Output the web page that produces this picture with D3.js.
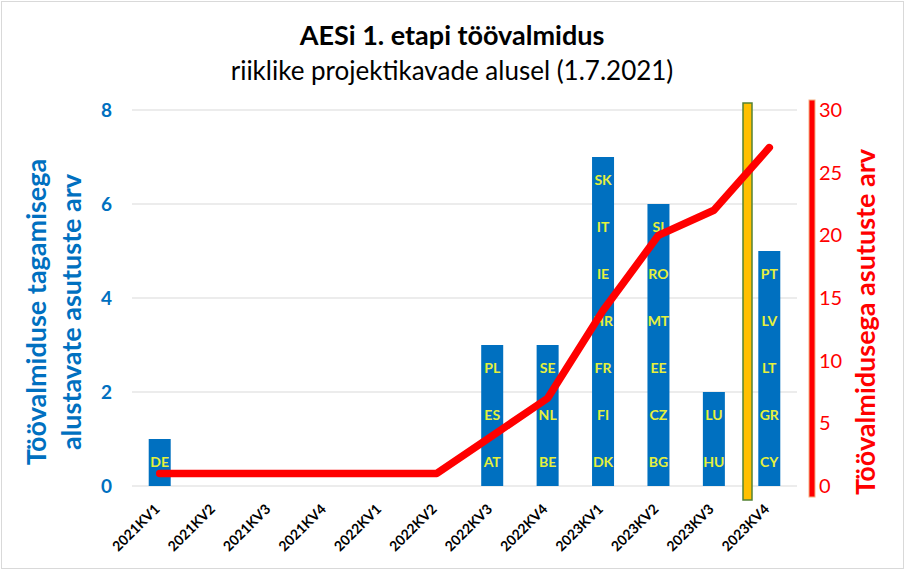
<!DOCTYPE html>
<html>
<head>
<meta charset="utf-8">
<script src="https://cdn.jsdelivr.net/npm/d3@7"></script>
<style>
  body { margin: 0; background: #fff; }
  svg { font-family: Lato, "Noto Sans", sans-serif; }
</style>
</head>
<body>
<script>
// data
var quarters = ["2021KV1","2021KV2","2021KV3","2021KV4","2022KV1","2022KV2",
                "2022KV3","2022KV4","2023KV1","2023KV2","2023KV3","2023KV4"];
// countries starting per quarter, bottom to top
var countries = [["DE"],[],[],[],[],[],
                 ["AT","ES","PL"],["BE","NL","SE"],
                 ["DK","FI","FR","HR","IE","IT","SK"],
                 ["BG","CZ","EE","MT","RO","SI"],
                 ["HU","LU"],["CY","GR","LT","LV","PT"]];
var starting = countries.map(function(d) { return d.length; });
var cumulative = [1,1,1,1,1,1,4,7,14,20,22,27];
var leftTicks = [0,2,4,6,8];
var rightTicks = [0,5,10,15,20,25,30];

var width = 905, height = 573;
var blue = "#0070C0", red = "#FF0000";

var svg = d3.select("body").append("svg")
  .attr("width", width)
  .attr("height", height);

// chart border
svg.append("rect")
  .attr("x", 1.5).attr("y", 1.5)
  .attr("width", width - 3).attr("height", height - 6)
  .attr("fill", "#fff").attr("stroke", "#d9d9d9");

var x = d3.scaleBand().domain(quarters).range([132, 797]);
var yL = d3.scaleLinear().domain([0, 8]).range([486, 110]);
var yR = d3.scaleLinear().domain([0, 30]).range([486, 110]);

// gridlines
svg.append("g")
  .selectAll("line")
  .data(leftTicks)
  .enter().append("line")
    .attr("x1", 132).attr("x2", 797)
    .attr("y1", function(d) { return yL(d); })
    .attr("y2", function(d) { return yL(d); })
    .attr("stroke", "#d9d9d9").attr("stroke-width", 1);

// left axis
var leftAxis = svg.append("g")
  .attr("transform", "translate(132,0)")
  .call(d3.axisLeft(yL).tickValues(leftTicks).tickSize(0).tickPadding(20));
leftAxis.select(".domain").remove();
leftAxis.selectAll("text")
  .attr("fill", blue).attr("font-size", 19).attr("font-weight", "bold")
  .attr("font-family", "Lato, sans-serif");

// right axis line
svg.append("rect")
  .attr("x", 809).attr("y", 100)
  .attr("width", 6).attr("height", 397)
  .attr("fill", red).attr("stroke", "#F4B183").attr("stroke-width", 1);

var rightAxis = svg.append("g")
  .attr("transform", "translate(815,0)")
  .call(d3.axisRight(yR).tickValues(rightTicks).tickSize(0).tickPadding(4));
rightAxis.select(".domain").remove();
rightAxis.selectAll("text")
  .attr("fill", red).attr("font-size", 20)
  .attr("font-family", "Lato, sans-serif");

// bars
var bw = 22;
svg.append("g")
  .selectAll("rect")
  .data(quarters)
  .enter().append("rect")
    .attr("x", function(d) { return x(d) + x.bandwidth() / 2 - bw / 2; })
    .attr("y", function(d, i) { return yL(starting[i]); })
    .attr("width", bw)
    .attr("height", function(d, i) { return yL(0) - yL(starting[i]); })
    .attr("fill", blue);

// country labels inside bars
var labels = [];
countries.forEach(function(list, i) {
  list.forEach(function(c, j) { labels.push({ q: quarters[i], c: c, v: j + 0.5 }); });
});
svg.append("g")
  .selectAll("text")
  .data(labels)
  .enter().append("text")
    .attr("x", function(d) { return x(d.q) + x.bandwidth() / 2; })
    .attr("y", function(d) { return yL(d.v); })
    .attr("dy", "0.35em")
    .attr("text-anchor", "middle")
    .attr("fill", "#E6F03C")
    .attr("font-size", 14).attr("font-weight", "bold")
    .text(function(d) { return d.c; });

// yellow marker column
svg.append("rect")
  .attr("x", 743).attr("y", 103)
  .attr("width", 9).attr("height", 397)
  .attr("fill", "#FFC000").attr("stroke", "#548235").attr("stroke-width", 1.5);

// cumulative line
var line = d3.line()
  .x(function(d, i) { return x(quarters[i]) + x.bandwidth() / 2; })
  .y(function(d) { return yR(d); });
svg.append("path")
  .datum(cumulative)
  .attr("d", line)
  .attr("fill", "none")
  .attr("stroke", red)
  .attr("stroke-width", 7.5)
  .attr("stroke-linejoin", "round")
  .attr("stroke-linecap", "round");

// x labels
svg.append("g")
  .selectAll("text")
  .data(quarters)
  .enter().append("text")
    .attr("transform", function(d) {
      return "translate(" + (x(d) + x.bandwidth() / 2 - 6) + ",503) rotate(-45)";
    })
    .attr("text-anchor", "end")
    .attr("dy", "0.7em")
    .attr("font-size", 14).attr("font-weight", "bold")
    .attr("fill", "#000")
    .text(function(d) { return d; });

// titles
svg.append("text")
  .attr("x", 452).attr("y", 45)
  .attr("text-anchor", "middle")
  .attr("font-size", 27).attr("font-weight", "bold")
  .text("AESi 1. etapi töövalmidus");
svg.append("text")
  .attr("x", 452).attr("y", 80)
  .attr("text-anchor", "middle")
  .attr("font-size", 26)
  .text("riiklike projektikavade alusel (1.7.2021)");

// left axis title
var lt = svg.append("text")
  .attr("transform", "translate(46,312) rotate(-90)")
  .attr("text-anchor", "middle")
  .attr("fill", blue).attr("font-size", 27).attr("font-weight", "bold");
lt.append("tspan").attr("x", 0).attr("dy", 0).text("Töövalmiduse tagamisega");
lt.append("tspan").attr("x", 0).attr("dy", 35).text("alustavate asutuste arv");

// right axis title
svg.append("text")
  .attr("transform", "translate(866,322) rotate(-90)")
  .attr("text-anchor", "middle")
  .attr("fill", red).attr("font-size", 27).attr("font-weight", "bold")
  .attr("dy", "0.35em")
  .text("Töövalmidusega  asutuste arv");
</script>
</body>
</html>
